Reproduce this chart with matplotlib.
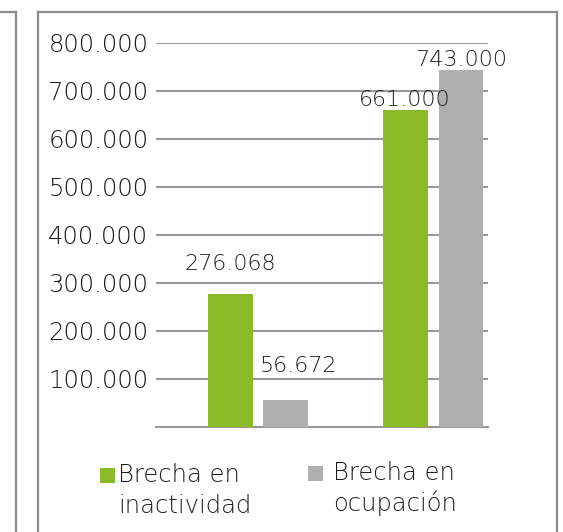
import matplotlib
matplotlib.use('Agg')
import matplotlib.pyplot as plt
import matplotlib.ticker as ticker
from matplotlib.lines import Line2D
from matplotlib.patches import Rectangle
import numpy as np

# data
groups = ["grupo 1", "grupo 2"]
series_names = ["Brecha en\ninactividad", "Brecha en\nocupación"]
inactividad = [276068, 661000]
ocupacion = [56672, 743000]
value_labels = [["276.068", "661.000"], ["56.672", "743.000"]]
y_ticks = [100000, 200000, 300000, 400000, 500000, 600000, 700000, 800000]

GREEN = "#8aba28"
GRAY = "#afafaf"
TEXT = "#1e1e1e"
GRID = "#999999"
FRAME = "#8c8c8c"

W, H = 563, 532
plt.rcParams['font.family'] = ['DejaVu Sans']
plt.rcParams['font.weight'] = 'light'

fig = plt.figure(figsize=(W / 100, H / 100), dpi=100)
fig.patch.set_facecolor("white")


def px(x, y):
    # pixel coords (from top-left) -> figure fraction
    return x / W, 1 - y / H


# plot area in pixels
left, right, top, bottom = 156, 488, 43, 427
ax = fig.add_axes([left / W, 1 - bottom / H, (right - left) / W, (bottom - top) / H])

x = np.arange(len(groups))
bar_w = 0.256
off = 0.157
bars1 = ax.bar(x - off, inactividad, bar_w, color=GREEN, zorder=3)
bars2 = ax.bar(x + off, ocupacion, bar_w, color=GRAY, zorder=3)

ax.set_xlim(-0.581, 1.311)
ax.set_ylim(0, 800000)
ax.set_yticks(y_ticks)
ax.yaxis.set_major_formatter(ticker.FuncFormatter(lambda v, p: f"{int(v):,}".replace(",", ".")))
ax.set_xticks([])
ax.tick_params(axis='y', length=0, pad=5.5, labelsize=17.5, labelcolor=TEXT)
ax.grid(axis='y', color=GRID, linewidth=1.5, zorder=0)
for s in ["top", "right", "left"]:
    ax.spines[s].set_visible(False)
ax.spines["bottom"].set_color(GRID)
ax.spines["bottom"].set_linewidth(1.5)

# data labels (offsets in points: dx, dy above bar top)
label_offsets = [[(0, 15), (-1, 0)], [(9, 17), (0, 0)]]
for si, bars in enumerate([bars1, bars2]):
    for gi, b in enumerate(bars):
        dx, dy = label_offsets[si][gi]
        ax.annotate(value_labels[si][gi], (b.get_x() + b.get_width() / 2, b.get_height()),
                    xytext=(dx, dy), textcoords="offset points", ha="center", va="bottom",
                    fontsize=16, color=TEXT, zorder=4)

# legend drawn by hand (handle aligned with first text line)
legend_items = [(GREEN, 100, 468, 118, 482), (GRAY, 308, 466, 333, 480)]
for (col, sx, sy, tx, ty), name in zip(legend_items, series_names):
    x0, y0 = px(sx, sy + 15)
    fig.patches.append(Rectangle((x0, y0), 15 / W, 15 / H, transform=fig.transFigure,
                                 facecolor=col, edgecolor="none"))
    for k, line in enumerate(name.split("\n")):
        fx, fy = px(tx, ty + 31 * k)
        fig.text(fx, fy, line, ha="left", va="baseline", fontsize=17.5, color=TEXT)

# surrounding frames
frame_lines = [
    ([0, 16], [12, 12]), ([16, 16], [12, 540]),
    ([38, 557], [12, 12]), ([38, 38], [12, 540]), ([557, 557], [12, 540]),
]
for xs, ys in frame_lines:
    fig.add_artist(Line2D([v / W for v in xs], [1 - v / H for v in ys],
                          transform=fig.transFigure, color=FRAME, linewidth=1.6))

fig.savefig("out.png", dpi=100, facecolor="white")
